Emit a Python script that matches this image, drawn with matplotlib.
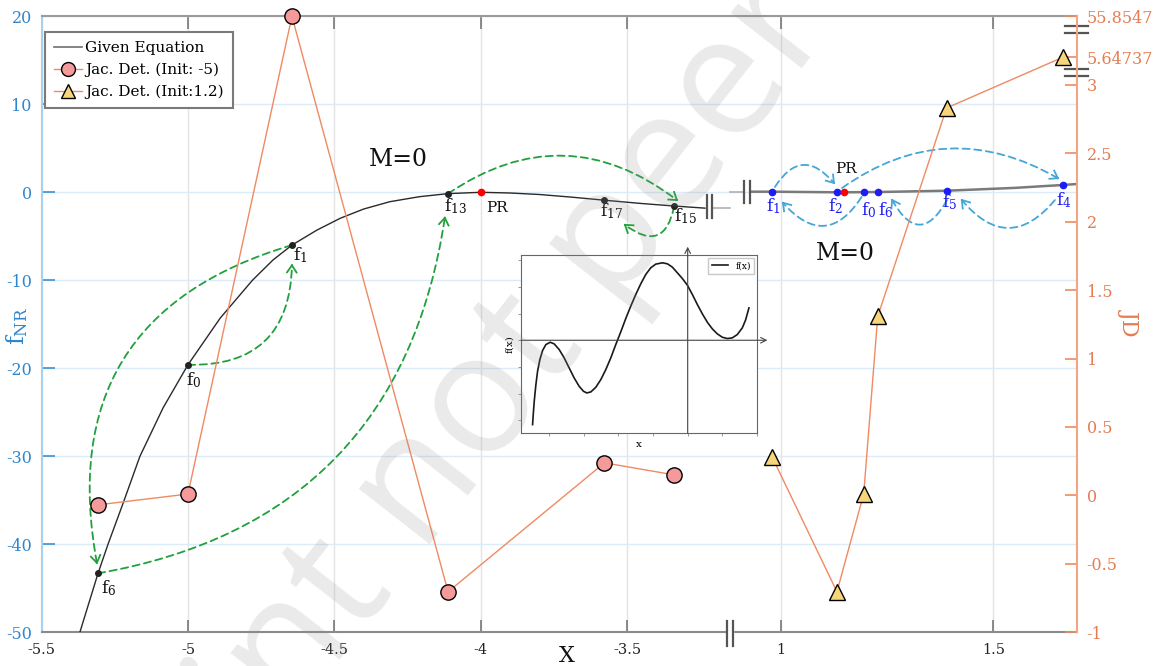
import numpy as np
import matplotlib
matplotlib.use('Agg')
import matplotlib.pyplot as plt
from matplotlib.patches import FancyArrowPatch
from matplotlib.lines import Line2D
from matplotlib.transforms import IdentityTransform
from matplotlib.font_manager import FontProperties

plt.rcParams['font.family'] = ['DejaVu Serif']
plt.rcParams['mathtext.default'] = 'regular'
plt.rcParams['axes.unicode_minus'] = False

# ---------------- data ----------------
# given equation, sampled on the two displayed x-ranges
eq_left_x = [-5.369, -5.307, -5.273, -5.22, -5.164, -5.085, -5.0, -4.89, -4.78, -4.71,
             -4.645, -4.56, -4.48, -4.40, -4.311, -4.21, -4.112, -4.0, -3.9, -3.8,
             -3.69, -3.578, -3.46, -3.34, -3.235]
eq_left_y = [-50.0, -43.3, -40.0, -35.2, -30.0, -24.5, -19.6, -14.3, -10.0, -7.7,
             -6.0, -4.3, -2.95, -1.9, -1.07, -0.5, -0.15, 0.0, -0.08, -0.25,
             -0.55, -0.9, -1.25, -1.56, -1.8]
eq_right_x = [0.932, 0.979, 1.132, 1.148, 1.195, 1.228, 1.39, 1.55, 1.663, 1.697]
eq_right_y = [0.07, 0.07, 0.0, 0.0, 0.02, 0.03, 0.18, 0.5, 0.83, 0.94]

# Newton-Raphson iterates, initial guess -5
it_left_x = [-5.307, -5.0, -4.645, -4.112, -3.578, -3.34]
it_left_f = [-43.3, -19.6, -6.0, -0.15, -0.9, -1.56]
it_left_jd = [-0.069, 0.01, 55.8547, -0.704, 0.238, 0.150]
it_left_names = ['6', '0', '1', '13', '17', '15']

# Newton-Raphson iterates, initial guess 1.2
it_right_x = [0.979, 1.132, 1.195, 1.228, 1.39, 1.663]
it_right_f = [0.07, 0.0, 0.02, 0.03, 0.18, 0.83]
it_right_jd = [0.284, -0.704, 0.011, 1.308, 2.83, 5.64737]
it_right_names = ['1', '2', '0', '6', '5', '4']

root_x = [-4.0, 1.148]
root_f = [0.0, 0.0]

x_ticks = [-5.5, -5, -4.5, -4, -3.5, 1, 1.5]
x_tick_labels = ['-5.5', '-5', '-4.5', '-4', '-3.5', '1', '1.5']
f_ticks = [-50, -40, -30, -20, -10, 0, 10, 20]
f_tick_labels = ['-50', '-40', '-30', '-20', '-10', '0', '10', '20']
jd_ticks = [-1, -0.5, 0, 0.5, 1, 1.5, 2, 2.5, 3, 5.64737, 55.8547]
jd_tick_labels = ['-1', '-0.5', '0', '0.5', '1', '1.5', '2', '2.5', '3', '5.64737', '55.8547']

# inset: overall shape of f(x)
inset_x = [-4.476, -4.457, -4.428, -4.380, -4.332, -4.265, -4.188, -4.092, -3.967, -3.852,
           -3.708, -3.564, -3.420, -3.276, -3.132, -3.007, -2.911, -2.795, -2.651, -2.507,
           -2.363, -2.219, -2.075, -1.931, -1.787, -1.643, -1.499, -1.354, -1.210, -1.066,
           -0.922, -0.730, -0.586, -0.442, -0.298, -0.154, -0.010, 0.135, 0.279, 0.423,
           0.567, 0.711, 0.855, 0.999, 1.143, 1.287, 1.431, 1.576, 1.671, 1.768]
inset_y = [-3.157, -2.783, -2.283, -1.659, -1.160, -0.723, -0.386, -0.161, -0.074, -0.136,
           -0.348, -0.660, -1.035, -1.409, -1.722, -1.909, -1.971, -1.934, -1.759, -1.472,
           -1.097, -0.660, -0.161, 0.313, 0.813, 1.275, 1.712, 2.111, 2.461, 2.711,
           2.848, 2.898, 2.860, 2.735, 2.523, 2.311, 2.061, 1.712, 1.337, 0.988,
           0.675, 0.426, 0.239, 0.113, 0.064, 0.089, 0.213, 0.463, 0.760, 1.212]

# ---------------- styling ----------------
C_ORANGE = '#ef8a62'
C_ORANGE_TXT = '#e57c52'
C_BLUE_TXT = '#2f86cc'
C_GREEN = '#21a03c'
C_LBLUE = '#45a6d8'
C_DOTBLUE = '#1c1cf5'

W, H = 1153, 666
fig = plt.figure(figsize=(W / 100, H / 100), dpi=100)
AX_L, AX_R, AX_T, AX_B = 41.5, 1077.0, 16.3, 632.3
ax = fig.add_axes([AX_L / W, (H - AX_B) / H, (AX_R - AX_L) / W, (AX_B - AX_T) / H])

# broken x axis: two linear pieces glued together
LEFT_LO, LEFT_HI = -5.5, -3.15
RIGHT_LO, RIGHT_HI = 0.88, 1.697
u_left_hi = (LEFT_HI - LEFT_LO) * 293.0
u_right_lo = u_left_hi + 0.01
u_right_hi = u_right_lo + (RIGHT_HI - RIGHT_LO) * 425.0
kx = np.array([LEFT_LO - 100, LEFT_LO, LEFT_HI, RIGHT_LO, RIGHT_HI, RIGHT_HI + 100])
ku = np.array([-100 * 293.0, 0.0, u_left_hi, u_right_lo, u_right_hi, u_right_hi + 100 * 425.0])


def xfwd(x):
    return np.interp(x, kx, ku)


def xinv(u):
    return np.interp(u, ku, kx)


# broken JD axis: values above 3 are compressed
ky = np.array([-100.0, 3.0, 5.64737, 55.8547, 1000.0])
kv = np.array([-100.0, 3.0, 3.2, 3.5, 9.2])


def yfwd(y):
    return np.interp(y, ky, kv)


def yinv(v):
    return np.interp(v, kv, ky)


ax.set_xscale('function', functions=(xfwd, xinv))
ax.set_xlim(LEFT_LO, RIGHT_HI)
ax.set_ylim(-50, 20)
ax.set_xticks(x_ticks)
ax.set_xticklabels(x_tick_labels)
ax.set_yticks(f_ticks)
ax.set_yticklabels(f_tick_labels)
ax.xaxis.set_minor_locator(matplotlib.ticker.NullLocator())
ax.grid(axis='x', color='#e4e4e4', lw=1.0)
ax.grid(axis='y', color='#dcebf8', lw=1.0)
ax.set_axisbelow(True)

ax.tick_params(axis='x', direction='in', length=9, top=True, color='#777777',
               labelcolor='#222222', labelsize=10.5, pad=8, width=1.2)
ax.tick_params(axis='y', direction='in', length=9, color='#3d8fd1',
               labelcolor=C_BLUE_TXT, labelsize=11.5, pad=7, width=1.2)
ax.spines['left'].set_color('#a9d0ee')
ax.spines['left'].set_linewidth(1.5)
ax.spines['bottom'].set_color('#8a8a8a')
ax.spines['bottom'].set_linewidth(1.5)
ax.spines['top'].set_color('#9a9a9a')
ax.spines['top'].set_linewidth(1.5)
ax.spines['right'].set_visible(False)

ax2 = ax.twinx()
ax2.set_yscale('function', functions=(yfwd, yinv))
ax2.set_ylim(-1, 55.8547)
ax2.set_yticks(jd_ticks)
ax2.set_yticklabels(jd_tick_labels)
ax2.yaxis.set_minor_locator(matplotlib.ticker.NullLocator())
ax2.tick_params(axis='y', direction='in', length=9, color=C_ORANGE,
                labelcolor=C_ORANGE_TXT, labelsize=11.5, pad=7, width=1.2)
for s in ('left', 'top', 'bottom'):
    ax2.spines[s].set_visible(False)
ax2.spines['right'].set_color('#f2a582')
ax2.spines['right'].set_linewidth(1.5)

# given equation
eq_line, = ax.plot(eq_left_x, eq_left_y, color='#2a2a2a', lw=1.0, zorder=3)
ax.plot(eq_right_x, eq_right_y, color='#7a7a7a', lw=1.8, zorder=3)
ax.plot(it_left_x, it_left_f, 'o', color='#222222', ms=4, zorder=6)
ax.plot(it_right_x, it_right_f, 'o', color=C_DOTBLUE, ms=4.5, zorder=6)
ax.plot(root_x, root_f, 'o', color='red', ms=4.5, zorder=7)
legend_eq = Line2D([], [], color='#6e6e6e', lw=1.2)

# jacobian determinant series
circ_line, = ax2.plot(it_left_x, it_left_jd, '-o', color=C_ORANGE, lw=1.0,
                      mfc='#f59a9a', mec='black', mew=1.0, ms=11, clip_on=False, zorder=4)
tri_line, = ax2.plot(it_right_x, it_right_jd, '-^', color=C_ORANGE, lw=1.0,
                     mfc='#f7d57a', mec='black', mew=1.0, ms=12, clip_on=False, zorder=4)


# break marks
def axes_line(xs, ys, **kw):
    ax.plot(xs, ys, transform=ax.transAxes, clip_on=False, **kw)


def px_x(px):
    return (px - AX_L) / (AX_R - AX_L)


def px_y(py):
    return (AX_B - py) / (AX_B - AX_T)


for px in (727, 733):
    axes_line([px_x(px)] * 2, [px_y(621), px_y(646)], color='#555555', lw=1.6, zorder=8)
axes_line([px_x(728), px_x(732)], [0, 0], color='white', lw=2.5, zorder=7)
for px in (707, 712):
    axes_line([px_x(px)] * 2, [px_y(195), px_y(218)], color='#555555', lw=1.6, zorder=8)
for px in (744, 750):
    axes_line([px_x(px)] * 2, [px_y(181), px_y(203)], color='#555555', lw=1.6, zorder=8)
axes_line([px_x(712), px_x(730)], [px_y(208), px_y(208)], color='#b0b0b0', lw=1.2, zorder=3)
axes_line([px_x(730), px_x(744)], [px_y(191.5), px_y(191.5)], color='#b0b0b0', lw=1.2, zorder=3)
for py in (26, 33, 69, 76):
    axes_line([px_x(1065), px_x(1088)], [px_y(py)] * 2, color='#555555', lw=1.6, zorder=8)

# iterate labels
left_offsets = [(2, -3.5), (-1.5, -4), (1, -0.5), (-3, -2), (-3.5, -0.5), (-0.5, -0.5)]
for x, f, name, (dx, dy) in zip(it_left_x, it_left_f, it_left_names, left_offsets):
    ax.annotate('$f_{%s}$' % name, (x, f), xytext=(dx, dy), textcoords='offset points',
                ha='left', va='top', fontsize=12.5, color='#111111', zorder=9)
right_offsets = [(-4.5, -3), (-6.5, -3), (-2, -6), (0, -6), (-3.5, -1.5), (-5, -3.5)]
for x, f, name, (dx, dy) in zip(it_right_x, it_right_f, it_right_names, right_offsets):
    ax.annotate('$f_{%s}$' % name, (x, f), xytext=(dx, dy), textcoords='offset points',
                ha='left', va='top', fontsize=12.5, color=C_DOTBLUE, zorder=9)
ax.annotate('PR', (root_x[0], root_f[0]), xytext=(11.5, -11.5), textcoords='offset points',
            ha='center', va='center', fontsize=11, color='#111111')
ax.annotate('PR', (root_x[1], root_f[1]), xytext=(1.5, 16.5), textcoords='offset points',
            ha='center', va='center', fontsize=11, color='#111111')

ax.text(px_x(398), px_y(160), 'M=0', transform=ax.transAxes, ha='center', va='center',
        fontsize=17, color='#111111')
ax.text(px_x(845), px_y(253), 'M=0', transform=ax.transAxes, ha='center', va='center',
        fontsize=17, color='#111111')

# axis titles
ax.text(px_x(567), px_y(656), 'X', transform=ax.transAxes, ha='center', va='center',
        fontsize=16, color='#111111')
ax.text(px_x(17), px_y(326), '$f_{NR}$', transform=ax.transAxes, ha='center', va='center',
        rotation=90, fontsize=17, color=C_BLUE_TXT)
ax.text(px_x(1130), px_y(322), 'JD', transform=ax.transAxes, ha='center', va='center',
        rotation=-90, fontsize=16, color=C_ORANGE_TXT)

# legend
leg = ax2.legend([legend_eq, circ_line, tri_line],
                 ['Given Equation', 'Jac. Det. (Init: -5)', 'Jac. Det. (Init:1.2)'],
                 loc='upper left', bbox_to_anchor=(px_x(45), px_y(32)), borderaxespad=0,
                 fontsize=11, fancybox=False, framealpha=1, edgecolor='#7a7a7a',
                 handlelength=1.8, handletextpad=0.25, borderpad=0.6, labelspacing=0.5)
leg.get_frame().set_linewidth(1.5)
for h in leg.legend_handles[1:]:
    h.set_markersize(10)


# iteration arrows
def draw_arc(p_start, p_end, rad, color):
    arc = FancyArrowPatch(p_start, p_end, connectionstyle='arc3,rad=%g' % rad,
                          arrowstyle='-', color=color, lw=1.3, linestyle=(0, (4, 2.5)),
                          shrinkA=0, shrinkB=0, zorder=5)
    ax.add_patch(arc)
    p1 = ax.transData.transform(p_start)
    p2 = ax.transData.transform(p_end)
    d = p2 - p1
    ctrl = (p1 + p2) / 2 + rad * np.array([d[1], -d[0]])
    t = p2 - ctrl
    t = t / np.hypot(*t)
    for a in (np.radians(34), -np.radians(34)):
        rot = np.array([[np.cos(a), -np.sin(a)], [np.sin(a), np.cos(a)]])
        back = p2 - 8.5 * (rot @ t)
        fig.add_artist(Line2D([p2[0], back[0]], [p2[1], back[1]], transform=IdentityTransform(),
                              color=color, lw=1.3, zorder=6))


green_arcs = [((-5.0, -19.6), (-4.645, -8.3), 0.5),
              ((-4.645, -6.0), (-5.311, -42.1), 0.45),
              ((-5.307, -43.3), (-4.123, -2.9), 0.36),
              ((-4.112, -0.15), (-3.331, -0.88), -0.36),
              ((-3.34, -1.56), (-3.508, -3.7), -0.8)]
for a, b, r in green_arcs:
    draw_arc(a, b, r, C_GREEN)

blue_arcs = [((0.986, 0.6), (1.125, 1.06), -0.68),
             ((1.19, -0.53), (1.005, -1.2), -0.66),
             ((1.144, 0.49), (1.652, 1.6), -0.32),
             ((1.645, -0.88), (1.426, -0.88), -0.6),
             ((1.391, -0.88), (1.262, -0.88), -0.9)]
for a, b, r in blue_arcs:
    draw_arc(a, b, r, C_LBLUE)

# inset
axi = fig.add_axes([521 / W, (H - 433) / H, (757 - 521) / W, (433 - 255) / H])
axi.set_facecolor('white')
axi.plot(inset_x, inset_y, color='#1a1a1a', lw=1.2, label='f(x)')
axi.set_xlim(-4.81, 2.0)
axi.set_ylim(-3.47, 3.19)
axi.set_xticks(range(-4, 3))
axi.set_yticks(range(-3, 4))
axi.tick_params(direction='out', length=2, width=0.6, color='#888888',
                labelbottom=False, labelleft=False)
for s in axi.spines.values():
    s.set_color('#666666')
    s.set_linewidth(0.8)
axi.annotate('', xy=(2.3, 0), xytext=(-4.81, 0),
             arrowprops=dict(arrowstyle='->', color='#444444', lw=0.8, shrinkA=0, shrinkB=0),
             annotation_clip=False)
axi.annotate('', xy=(0, 3.5), xytext=(0, -3.47),
             arrowprops=dict(arrowstyle='->', color='#444444', lw=0.8, shrinkA=0, shrinkB=0),
             annotation_clip=False)
axi.set_xlabel('x', fontsize=7.5, labelpad=3)
axi.set_ylabel('f(x)', fontsize=7.5, labelpad=3)
ileg = axi.legend(loc='upper right', fontsize=6.5, handlelength=1.8, fancybox=False,
                  edgecolor='#bbbbbb', borderpad=0.4, borderaxespad=0.3)

# watermark
wm_prop = FontProperties(family='Open Sans', size=122)
renderer = fig.canvas.get_renderer()
w1 = renderer.get_text_width_height_descent('Preprint x', wm_prop, ismath=False)[0]
w2 = renderer.get_text_width_height_descent('x', wm_prop, ismath=False)[0]
ang = np.radians(52)
target = np.array([422.0, H - 555.0])
anchor = target - (w1 - w2) * np.array([np.cos(ang), np.sin(ang)])
fig.text(anchor[0] / W, anchor[1] / H, 'Preprint not peer reviewed', fontproperties=wm_prop,
         rotation=52, rotation_mode='anchor', ha='left', va='baseline',
         color='#8c8c8c', alpha=0.18, zorder=20)

fig.savefig('out.png', dpi=100, facecolor='white')
